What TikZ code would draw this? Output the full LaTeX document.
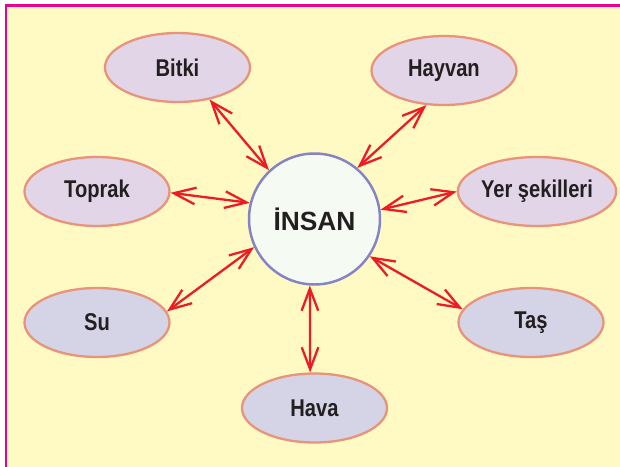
\documentclass[tikz,border=0pt]{standalone}
\usepackage{fontspec}
\setmainfont{Liberation Sans}
\newfontfamily\narrowfont{Liberation Sans}[FakeStretch=0.83]
\usepackage{tikz}
\usetikzlibrary{arrows.meta,shapes.geometric}
\definecolor{pagebg}{HTML}{FFF9C4}
\definecolor{frame}{HTML}{EC008C}
\definecolor{topfill}{HTML}{E1D5E7}
\definecolor{lowfill}{HTML}{D4D4E6}
\definecolor{rim}{HTML}{E8937A}
\definecolor{hubfill}{HTML}{F5FAF2}
\definecolor{hubrim}{HTML}{8484C4}
\definecolor{linkred}{HTML}{ED1C24}
\definecolor{ink}{HTML}{231F20}

\begin{document}
\begin{tikzpicture}[x=0.02cm,y=-0.02cm,
  item/.style={ellipse,draw=rim,line width=1.3pt,minimum width=2.9cm,minimum height=1.38cm,
    inner sep=0pt,text=ink,font=\narrowfont\bfseries\fontsize{13.8}{15}\selectfont},
  upper/.style={item,fill=topfill},
  lower/.style={item,fill=lowfill},
  link/.style={linkred,line width=1.3pt,{Straight Barb[length=12.5pt,width=9.5pt]}-{Straight Barb[length=12.5pt,width=9.5pt]}}]
  % page and frame
  \clip (0,0) rectangle (620,467);
  \fill[white] (0,0) rectangle (620,467);
  \fill[pagebg] (6,5.5) rectangle (640,490);
  \draw[frame,line width=1.7pt] (6,5.5) rectangle (640,490);
  % hub
  \node[circle,draw=hubrim,fill=hubfill,line width=1.4pt,minimum size=2.62cm,inner sep=0pt,
    text=ink,font=\bfseries\fontsize{15}{18}\selectfont] (insan) at (314.5,219) {İNSAN};
  % upper ring
  \node[upper] (bitki) at (177.5,67.5) {Bitki};
  \node[upper] (hayvan) at (444,70.5) {Hayvan};
  \node[upper] (toprak) at (97,191.5) {Toprak};
  \node[upper] (yer) at (537,191.5) {Yer şekilleri};
  % lower ring
  \node[lower] (su) at (97,322.5) {Su};
  \node[lower] (tas) at (531,322.5) {Taş};
  \node[lower] (hava) at (314.5,408) {Hava};
  % links
  \draw[link] (bitki.-45) -- (insan.133.5);
  \draw[link] (hayvan.-117) -- (insan.50);
  \draw[link] (toprak.-1) -- (insan.166);
  \draw[link] (yer.west) -- (insan.8.5);
  \draw[link] (su.9) -- (insan.205);
  \draw[link] (tas.169.5) -- (insan.-34.5);
  \draw[link] (hava.97) -- (insan.-94);
\end{tikzpicture}
\end{document}
